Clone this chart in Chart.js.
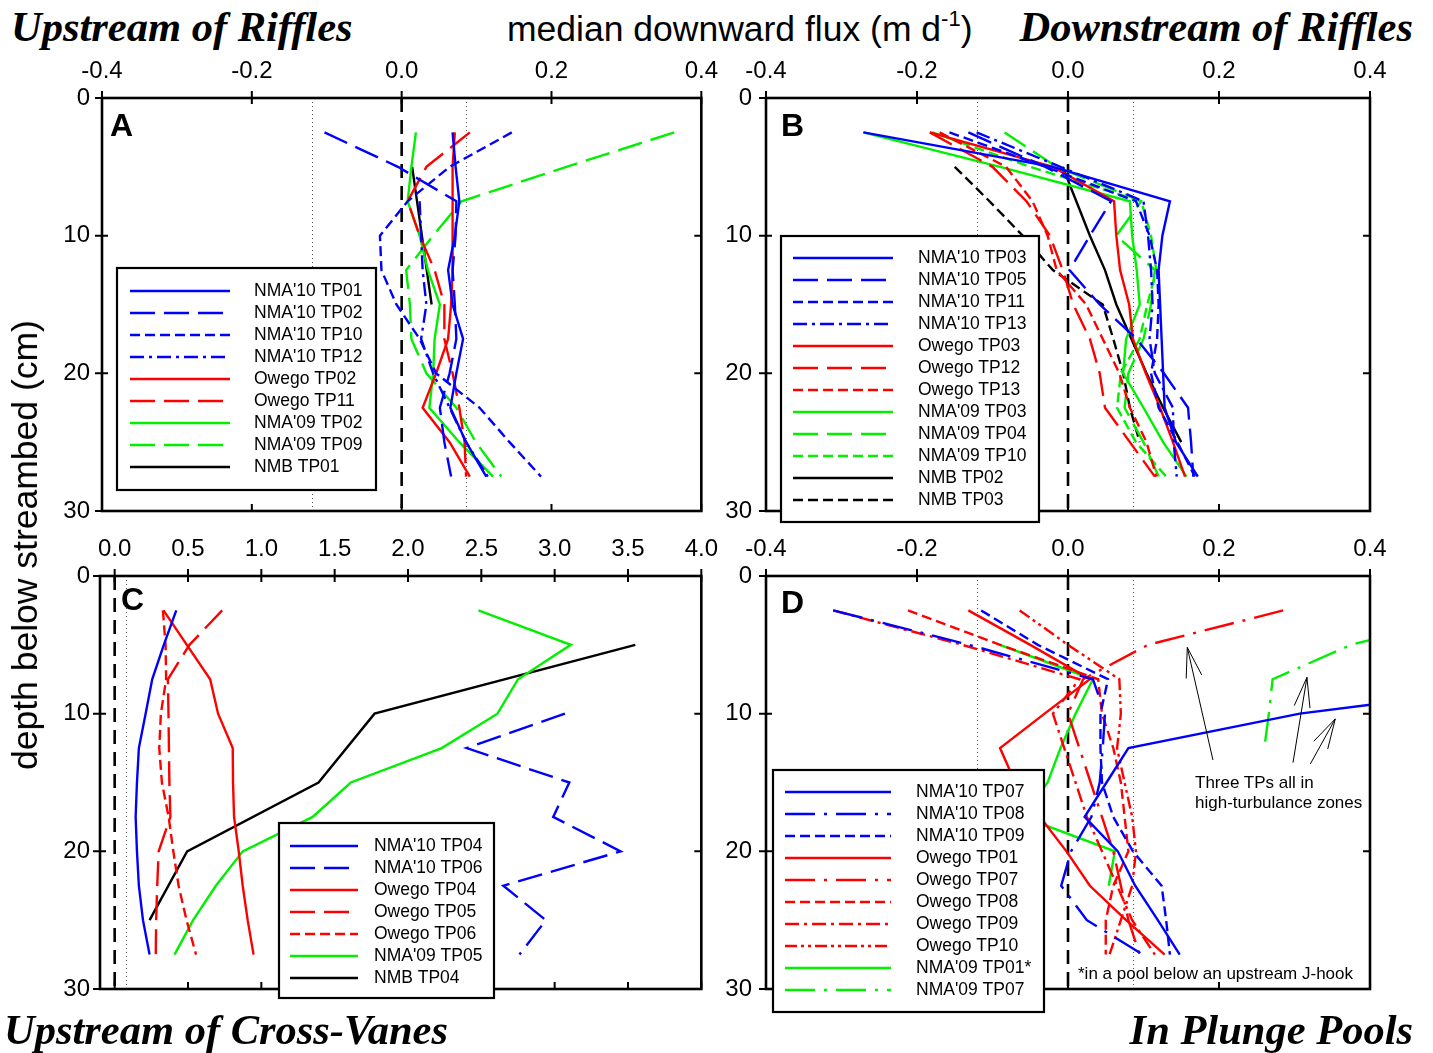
<!DOCTYPE html>
<html>
<head>
<meta charset="utf-8">
<title>Median downward flux profiles</title>
<script src="https://cdn.jsdelivr.net/npm/chart.js@4.4.0/dist/chart.umd.min.js"></script>
<style>
  body { margin: 0; background: #fff; width: 1433px; height: 1053px; position: relative; overflow: hidden;
         font-family: "Liberation Sans", Arial, sans-serif; color: #000; }
  canvas { position: absolute; }
  .site { position: absolute; font-family: "Liberation Serif", "Times New Roman", serif; font-weight: bold;
          font-style: italic; font-size: 42.5px; line-height: 42px; white-space: nowrap; }
  .letter { position: absolute; font-weight: bold; font-size: 32px; line-height: 32px; }
  .note { position: absolute; font-size: 17px; line-height: 20px; white-space: nowrap; }
  #xtitle { position: absolute; left: 507px; top: 9px; font-size: 35.5px; line-height: 40px; white-space: nowrap; }
  #xtitle sup { font-size: 22px; line-height: 0; position: relative; top: -2px; }
  #ytitle { position: absolute; left: 25px; top: 545px; font-size: 35.5px; line-height: 40px; white-space: nowrap;
            transform: translate(-50%, -50%) rotate(-90deg); }
</style>
</head>
<body>
<canvas id="panelA" width="730" height="490" style="left:0px; top:50px"></canvas>
<canvas id="panelB" width="733" height="490" style="left:700px; top:50px"></canvas>
<canvas id="panelC" width="730" height="525" style="left:0px; top:528px"></canvas>
<canvas id="panelD" width="733" height="525" style="left:700px; top:528px"></canvas>

<div class="site" style="left:11px; top:6px">Upstream of Riffles</div>
<div class="site" style="right:20px; top:6px">Downstream of Riffles</div>
<div class="site" style="left:4px; top:1009px">Upstream of Cross-Vanes</div>
<div class="site" style="right:20px; top:1009px">In Plunge Pools</div>
<div id="xtitle">median downward flux (m d<sup>-1</sup>)</div>
<div id="ytitle">depth below streambed (cm)</div>
<div class="letter" style="left:110px; top:109px">A</div>
<div class="letter" style="left:781px; top:109px">B</div>
<div class="letter" style="left:121px; top:583px">C</div>
<div class="letter" style="left:781px; top:586px">D</div>
<div class="note" style="left:1195px; top:773px">Three TPs all in</div>
<div class="note" style="left:1195px; top:793px">high-turbulance zones</div>
<div class="note" style="left:1078px; top:964px">*in a pool below an upstream J-hook</div>

<script>
// depths of the piezometer readings (cm below streambed)
const DEPTH = [2.5, 5, 7.5, 10, 12.5, 15, 17.5, 20, 22.5, 25, 27.5];

// A - upstream of riffles (m/d)
const A_NMA10_TP01 = [0.068, 0.072, 0.077, 0.071, 0.062, 0.068, 0.082, 0.073, 0.065, 0.086, 0.113];
const A_NMA10_TP02 = [-0.103, -0.005, 0.073, 0.072, 0.068, 0.071, 0.073, 0.064, 0.051, 0.057, 0.066];
const A_NMA10_TP10 = [0.147, 0.064, 0.008, -0.029, -0.027, -0.007, 0.024, 0.046, 0.104, 0.144, 0.186];
const A_NMA10_TP12 = [null, null, 0.024, 0.026, 0.028, 0.033, 0.026, 0.042, 0.064, 0.086, 0.115];
const A_OWEGO_TP02 = [0.071, 0.068, 0.068, 0.068, 0.068, 0.066, 0.062, 0.046, 0.028, 0.064, 0.091];
const A_OWEGO_TP11 = [0.091, 0.033, 0.008, 0.024, 0.044, 0.057, 0.057, 0.068, 0.077, 0.084, 0.086];
const A_NMA09_TP02 = [0.019, 0.013, 0.008, 0.024, 0.035, 0.051, 0.044, 0.042, 0.037, 0.077, 0.122];
const A_NMA09_TP09 = [0.364, 0.22, 0.080, 0.042, 0.006, 0.011, 0.013, 0.033, 0.073, 0.099, 0.133];
const A_NMB_TP01   = [null, 0.014, null, 0.027, null, 0.040, null, null, null, null, null];

// B - downstream of riffles
const B_NMA10_TP03 = [-0.271, -0.02, 0.135, 0.125, 0.12, 0.122, 0.124, 0.126, 0.128, 0.143, 0.172];
const B_NMA10_TP05 = [-0.132, -0.03, 0.057, 0.029, 0.002, 0.042, 0.091, 0.127, 0.159, 0.163, 0.166];
const B_NMA10_TP11 = [-0.157, -0.03, 0.09, 0.108, 0.118, 0.12, 0.118, 0.11, 0.12, 0.145, 0.168];
const B_NMA10_TP13 = [-0.121, -0.01, 0.1, 0.106, 0.11, 0.112, 0.108, 0.115, 0.139, 0.14, 0.144];
const B_OWEGO_TP03 = [-0.183, -0.02, 0.061, 0.064, 0.069, 0.081, 0.086, 0.103, 0.122, 0.139, 0.155];
const B_OWEGO_TP12 = [-0.183, -0.1, -0.055, -0.024, -0.007, 0.007, 0.029, 0.042, 0.049, 0.082, 0.115];
const B_OWEGO_TP13 = [-0.17, -0.082, -0.047, -0.027, -0.015, 0.024, 0.046, 0.068, 0.082, 0.104, 0.117];
const B_NMA09_TP03 = [-0.271, -0.09, 0.082, 0.085, 0.091, 0.095, 0.077, 0.073, 0.1, 0.126, 0.157];
const B_NMA09_TP04 = [-0.084, -0.015, 0.097, 0.064, 0.115, 0.11, 0.1, 0.08, 0.075, 0.1, 0.12];
const B_NMA09_TP10 = [-0.18, -0.05, 0.097, 0.11, 0.117, 0.105, 0.095, 0.07, 0.065, 0.09, 0.13];
const B_NMB_TP02   = [null, -0.007, 0.011, 0.029, 0.049, 0.064, 0.084, 0.104, 0.126, 0.15, null];
const B_NMB_TP03   = [null, -0.15, -0.104, -0.06, -0.02, 0.046, 0.06, 0.073, 0.082, 0.095, null];

// C - upstream of cross-vanes
const C_NMA10_TP04 = [0.42, 0.335, 0.256, 0.211, 0.165, 0.152, 0.143, 0.152, 0.165, 0.193, 0.238];
const C_NMA10_TP06 = [null, null, null, 3.07, 2.40, 3.10, 2.99, 3.45, 2.65, 2.94, 2.76];
const C_OWEGO_TP04 = [0.333, 0.492, 0.651, 0.705, 0.805, 0.807, 0.814, 0.846, 0.873, 0.907, 0.947];
const C_OWEGO_TP05 = [0.733, 0.51, 0.363, 0.367, 0.37, 0.373, 0.38, 0.30, 0.29, 0.283, 0.28];
const C_OWEGO_TP06 = [0.329, 0.347, 0.351, 0.315, 0.304, 0.322, 0.368, 0.40, 0.436, 0.49, 0.555];
const C_NMA09_TP05 = [2.48, 3.11, 2.75, 2.61, 2.23, 1.61, 1.35, 0.873, 0.69, 0.535, 0.408];
const C_NMB_TP04   = [null, 3.55, null, 1.772, null, 1.39, null, 0.494, null, 0.238, null];

// D - in plunge pools
const D_NMA10_TP07 = [null, null, 0.666, 0.307, 0.08, 0.051, 0.022, 0.066, 0.089, 0.119, 0.148];
const D_NMA10_TP08 = [-0.311, -0.131, 0.033, 0.049, 0.046, 0.042, 0.031, 0.004, -0.009, 0.025, 0.099];
const D_NMA10_TP09 = [-0.115, -0.04, 0.053, 0.043, 0.043, 0.045, 0.06, 0.086, 0.124, 0.13, 0.135];
const D_OWEGO_TP01 = [-0.132, -0.05, 0.029, -0.031, -0.09, -0.07, -0.037, -0.002, 0.029, 0.077, 0.128];
const D_OWEGO_TP07 = [0.285, 0.106, 0.02, 0.0, 0.015, 0.03, 0.045, 0.06, 0.07, 0.08, 0.095];
const D_OWEGO_TP08 = [-0.212, -0.09, 0.04, 0.045, 0.06, 0.07, 0.075, 0.08, 0.06, 0.05, 0.05];
const D_OWEGO_TP09 = [-0.311, -0.14, 0.015, -0.02, -0.005, 0.01, 0.025, 0.045, 0.065, 0.085, 0.115];
const D_OWEGO_TP10 = [-0.064, 0.0, 0.068, 0.07, 0.065, 0.075, 0.085, 0.09, 0.085, 0.07, 0.055];
const D_NMA09_TP01 = [null, -0.09, 0.033, 0.01, -0.01, -0.027, -0.06, 0.062, 0.054, null, null];
const D_NMA09_TP07 = [0.55, 0.375, 0.271, 0.266, 0.26, null, null, null, null, null, null];

const COLORS = { blue: '#0000ff', red: '#ff0000', green: '#00f000', black: '#000000' };
const DASH = {
  solid: [], long: [25, 9], short: [10, 5], dashDot: [14, 5, 3, 5],
  longDot: [30, 9, 3, 9], dashDotDot: [12, 4, 3, 4, 3, 4]
};

function series(label, values, color, dash) {
  return {
    label: label,
    data: DEPTH.map((d, i) => ({ x: values[i], y: d })).filter(p => p.x !== null),
    borderColor: COLORS[color],
    borderDash: DASH[dash],
    borderWidth: 2.4,
    pointRadius: 0,
    showLine: true,
    fill: false,
    tension: 0
  };
}

function fmt1(v) { return Math.abs(v) < 1e-9 ? '0.0' : v.toFixed(1); }

// reference lines, frame with mirrored ticks, and arrows
const framePlugin = {
  id: 'frame',
  beforeDatasetsDraw(chart, args, o) {
    const ctx = chart.ctx, a = chart.chartArea, x = chart.scales.x;
    ctx.save();
    ctx.beginPath(); ctx.rect(a.left, a.top, a.width, a.height); ctx.clip();
    ctx.strokeStyle = '#555'; ctx.lineWidth = 1; ctx.setLineDash([1, 3]);
    (o.dotted || []).forEach(v => {
      const px = Math.round(x.getPixelForValue(v)) + 0.5;
      ctx.beginPath(); ctx.moveTo(px, a.top); ctx.lineTo(px, a.bottom); ctx.stroke();
    });
    ctx.strokeStyle = '#000'; ctx.lineWidth = 2.6; ctx.setLineDash([14, 8]);
    const pz = x.getPixelForValue(0);
    ctx.beginPath(); ctx.moveTo(pz, a.top); ctx.lineTo(pz, a.bottom); ctx.stroke();
    ctx.restore();
  },
  afterDatasetsDraw(chart, args, o) {
    const ctx = chart.ctx, a = chart.chartArea, x = chart.scales.x, y = chart.scales.y;
    ctx.save();
    ctx.strokeStyle = '#000'; ctx.lineWidth = 2.6; ctx.setLineDash([]);
    ctx.strokeRect(a.left, a.top, a.width, a.height);
    ctx.lineWidth = 2;
    ctx.beginPath();
    x.ticks.forEach(t => {
      const px = x.getPixelForValue(t.value);
      ctx.moveTo(px, a.top - 7); ctx.lineTo(px, a.top + 6);
      ctx.moveTo(px, a.bottom - 7); ctx.lineTo(px, a.bottom);
    });
    y.ticks.forEach(t => {
      const py = y.getPixelForValue(t.value);
      ctx.moveTo(a.left - 7, py); ctx.lineTo(a.left + 6, py);
      ctx.moveTo(a.right - 7, py); ctx.lineTo(a.right, py);
    });
    ctx.stroke();
    // annotation arrows, given in data units
    ctx.lineWidth = 1;
    (o.arrows || []).forEach(ar => {
      const x0 = x.getPixelForValue(ar[0]), y0 = y.getPixelForValue(ar[1]);
      const x1 = x.getPixelForValue(ar[2]), y1 = y.getPixelForValue(ar[3]);
      const ang = Math.atan2(y0 - y1, x0 - x1), h = 31, sp = 0.26;
      ctx.beginPath();
      ctx.moveTo(x0, y0); ctx.lineTo(x1, y1);
      ctx.moveTo(x1 + h * Math.cos(ang - sp), y1 + h * Math.sin(ang - sp));
      ctx.lineTo(x1, y1);
      ctx.lineTo(x1 + h * Math.cos(ang + sp), y1 + h * Math.sin(ang + sp));
      ctx.stroke();
    });
    ctx.restore();
  }
};

// boxed legend placed inside the plot
const legendBox = {
  id: 'legendBox',
  afterDraw(chart, args, o) {
    if (!o.box) return;
    const ctx = chart.ctx, ox = o.origin[0], oy = o.origin[1];
    ctx.save();
    ctx.fillStyle = '#fff';
    ctx.fillRect(o.box[0] - ox, o.box[1] - oy, o.box[2], o.box[3]);
    ctx.strokeStyle = '#000'; ctx.lineWidth = 2.2;
    ctx.strokeRect(o.box[0] - ox, o.box[1] - oy, o.box[2], o.box[3]);
    ctx.font = '17.5px "Liberation Sans", Arial, sans-serif';
    ctx.textBaseline = 'middle';
    chart.data.datasets.forEach((ds, i) => {
      const py = o.firstRow + i * o.rowH - oy;
      ctx.strokeStyle = ds.borderColor; ctx.lineWidth = 2.4;
      ctx.setLineDash(ds.borderDash || []);
      ctx.beginPath(); ctx.moveTo(o.sample[0] - ox, py); ctx.lineTo(o.sample[1] - ox, py); ctx.stroke();
      ctx.setLineDash([]);
      ctx.fillStyle = '#000';
      ctx.fillText(ds.label, o.textX - ox, py);
    });
    ctx.restore();
  }
};

Chart.register(framePlugin, legendBox);
Chart.defaults.font.family = '"Liberation Sans", Arial, sans-serif';
Chart.defaults.font.size = 24;
Chart.defaults.color = '#000';

function scales(xmin, xmax, step, yWidth, xPad, yPad) {
  return {
    x: {
      type: 'linear', position: 'top', min: xmin, max: xmax,
      grid: { display: false, drawTicks: false }, border: { display: false },
      ticks: { stepSize: step, includeBounds: false, padding: xPad, maxRotation: 0, autoSkip: false, callback: fmt1 },
      afterFit: s => { s.height = 48; }
    },
    y: {
      type: 'linear', position: 'left', reverse: true, min: 0, max: 30,
      grid: { display: false, drawTicks: false }, border: { display: false },
      ticks: { stepSize: 10, padding: yPad },
      afterFit: s => { s.width = yWidth; }
    }
  };
}

function makePanel(id, datasets, sc, padRight, padBottom, frameOpts, legendOpts) {
  return new Chart(document.getElementById(id), {
    type: 'scatter',
    data: { datasets: datasets },
    options: {
      responsive: false, animation: false, events: [],
      layout: { padding: { left: 0, top: 0, right: padRight, bottom: padBottom } },
      scales: sc,
      plugins: { legend: { display: false }, tooltip: { enabled: false }, frame: frameOpts, legendBox: legendOpts }
    }
  });
}

makePanel('panelA', [
  series("NMA'10 TP01", A_NMA10_TP01, 'blue', 'solid'),
  series("NMA'10 TP02", A_NMA10_TP02, 'blue', 'long'),
  series("NMA'10 TP10", A_NMA10_TP10, 'blue', 'short'),
  series("NMA'10 TP12", A_NMA10_TP12, 'blue', 'dashDot'),
  series('Owego TP02', A_OWEGO_TP02, 'red', 'solid'),
  series('Owego TP11', A_OWEGO_TP11, 'red', 'long'),
  series("NMA'09 TP02", A_NMA09_TP02, 'green', 'solid'),
  series("NMA'09 TP09", A_NMA09_TP09, 'green', 'long'),
  series('NMB TP01', A_NMB_TP01, 'black', 'solid')
], scales(-0.4, 0.4, 0.2, 102, 12, 12), 27, 29,
  { dotted: [-0.12, 0.086] },
  { origin: [0, 50], box: [117, 268, 259, 222], firstRow: 291, rowH: 22, sample: [130, 230], textX: 254 });

makePanel('panelB', [
  series("NMA'10 TP03", B_NMA10_TP03, 'blue', 'solid'),
  series("NMA'10 TP05", B_NMA10_TP05, 'blue', 'long'),
  series("NMA'10 TP11", B_NMA10_TP11, 'blue', 'short'),
  series("NMA'10 TP13", B_NMA10_TP13, 'blue', 'dashDot'),
  series('Owego TP03', B_OWEGO_TP03, 'red', 'solid'),
  series('Owego TP12', B_OWEGO_TP12, 'red', 'long'),
  series('Owego TP13', B_OWEGO_TP13, 'red', 'short'),
  series("NMA'09 TP03", B_NMA09_TP03, 'green', 'solid'),
  series("NMA'09 TP04", B_NMA09_TP04, 'green', 'long'),
  series("NMA'09 TP10", B_NMA09_TP10, 'green', 'short'),
  series('NMB TP02', B_NMB_TP02, 'black', 'solid'),
  series('NMB TP03', B_NMB_TP03, 'black', 'short')
], scales(-0.4, 0.4, 0.2, 66, 12, 14), 63, 29,
  { dotted: [-0.12, 0.086] },
  { origin: [700, 50], box: [781, 236, 258, 286], firstRow: 258, rowH: 22, sample: [793, 893], textX: 918 });

makePanel('panelC', [
  series("NMA'10 TP04", C_NMA10_TP04, 'blue', 'solid'),
  series("NMA'10 TP06", C_NMA10_TP06, 'blue', 'long'),
  series('Owego TP04', C_OWEGO_TP04, 'red', 'solid'),
  series('Owego TP05', C_OWEGO_TP05, 'red', 'long'),
  series('Owego TP06', C_OWEGO_TP06, 'red', 'short'),
  series("NMA'09 TP05", C_NMA09_TP05, 'green', 'solid'),
  series('NMB TP04', C_NMB_TP04, 'black', 'solid')
], scales(-0.1, 4.0, 0.5, 100, 12, 10), 27, 64,
  { dotted: [0.08] },
  { origin: [0, 528], box: [279, 823, 215, 175], firstRow: 846, rowH: 22, sample: [290, 358], textX: 374 });

makePanel('panelD', [
  series("NMA'10 TP07", D_NMA10_TP07, 'blue', 'solid'),
  series("NMA'10 TP08", D_NMA10_TP08, 'blue', 'longDot'),
  series("NMA'10 TP09", D_NMA10_TP09, 'blue', 'short'),
  series('Owego TP01', D_OWEGO_TP01, 'red', 'solid'),
  series('Owego TP07', D_OWEGO_TP07, 'red', 'longDot'),
  series('Owego TP08', D_OWEGO_TP08, 'red', 'short'),
  series('Owego TP09', D_OWEGO_TP09, 'red', 'dashDot'),
  series('Owego TP10', D_OWEGO_TP10, 'red', 'dashDotDot'),
  series("NMA'09 TP01*", D_NMA09_TP01, 'green', 'solid'),
  series("NMA'09 TP07", D_NMA09_TP07, 'green', 'longDot')
], scales(-0.4, 0.4, 0.2, 66, 12, 14), 63, 64,
  { dotted: [-0.12, 0.086],
    arrows: [[0.192, 13.37, 0.158, 5.19], [0.298, 13.56, 0.3165, 7.36], [0.321, 13.65, 0.354, 10.38]] },
  { origin: [700, 528], box: [773, 770, 271, 242], firstRow: 792, rowH: 22, sample: [785, 891], textX: 916 });
</script>
</body>
</html>
